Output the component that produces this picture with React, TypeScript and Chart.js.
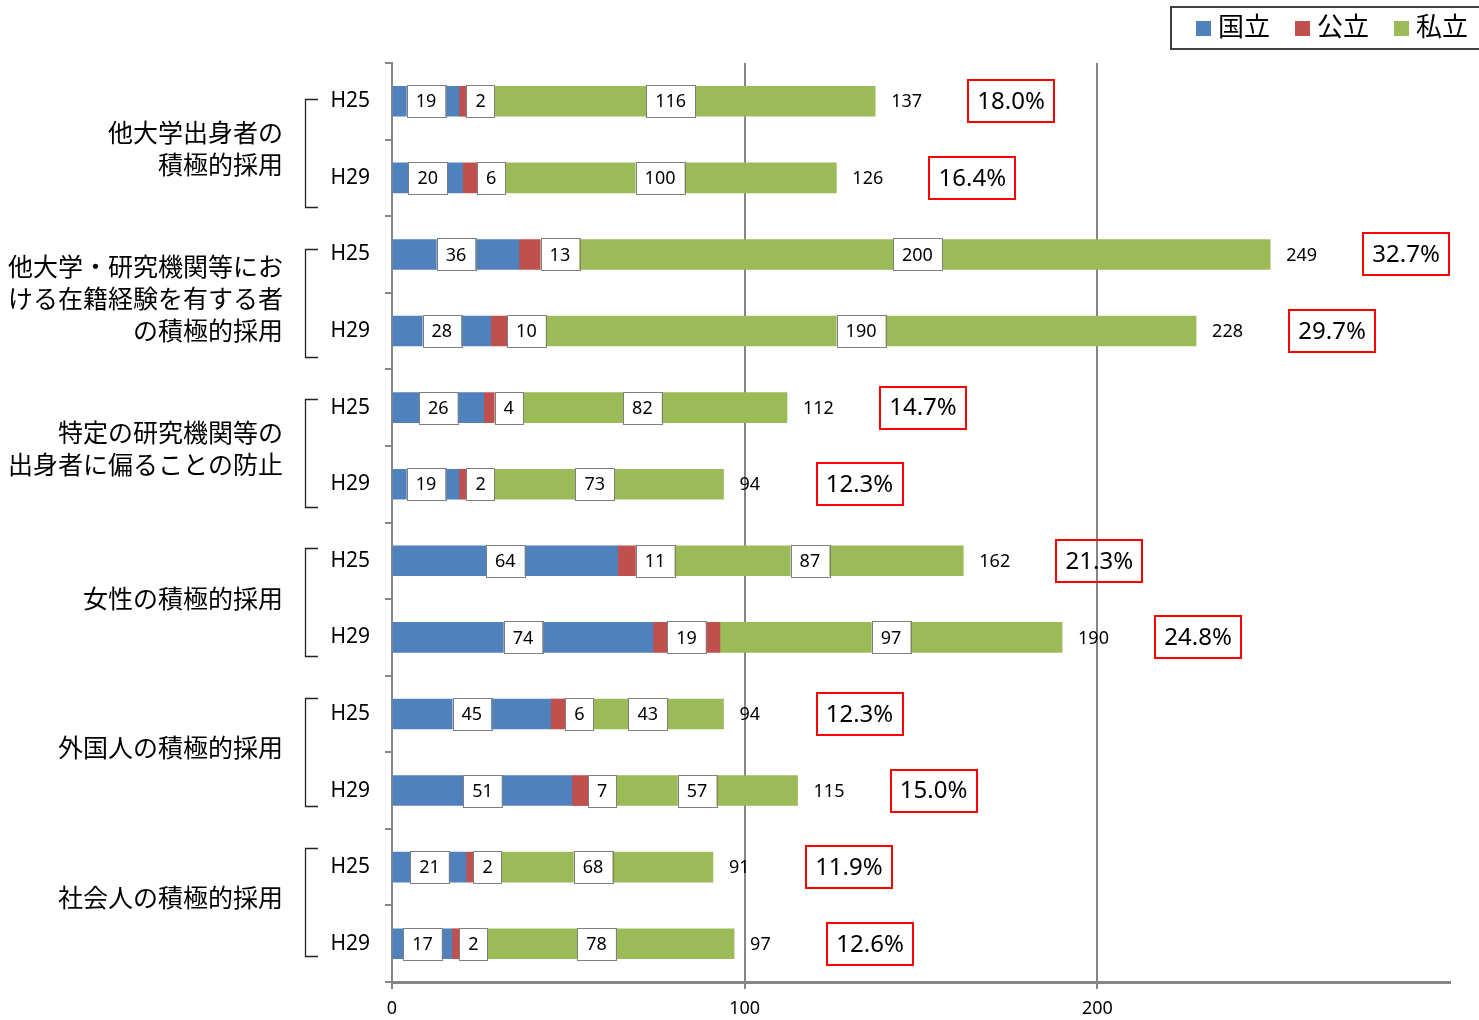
import React, { useEffect, useRef } from "react";
import { Chart, registerables } from "chart.js";

Chart.register(...registerables);

// ---- data ----
const categories = ["H25", "H29", "H25", "H29", "H25", "H29", "H25", "H29", "H25", "H29", "H25", "H29"];
const groupLabels: string[][] = [
  ["他大学出身者の", "積極的採用"],
  ["他大学・研究機関等にお", "ける在籍経験を有する者", "の積極的採用"],
  ["特定の研究機関等の", "出身者に偏ることの防止"],
  ["女性の積極的採用"],
  ["外国人の積極的採用"],
  ["社会人の積極的採用"],
];
const seriesNames = ["国立", "公立", "私立"];
const kokuritsu = [19, 20, 36, 28, 26, 19, 64, 74, 45, 51, 21, 17];
const kouritsu = [2, 6, 13, 10, 4, 2, 11, 19, 6, 7, 2, 2];
const shiritsu = [116, 100, 200, 190, 82, 73, 87, 97, 43, 57, 68, 78];
const totals = [137, 126, 249, 228, 112, 94, 162, 190, 94, 115, 91, 97];
const shares = ["18.0%", "16.4%", "32.7%", "29.7%", "14.7%", "12.3%", "21.3%", "24.8%", "12.3%", "15.0%", "11.9%", "12.6%"];
const xTickLabels = [0, 100, 200];
const xMax = 300;

// ---- style ----
const COLORS = ["#4F81BD", "#C0504D", "#9BBB59"];
const FONT = "'Noto Sans', 'Noto Sans CJK JP', sans-serif";
const AXIS = "#868686";

const overlay = {
  id: "overlay",
  beforeDatasetsDraw(chart: any) {
    const { ctx, chartArea, scales } = chart;
    ctx.save();
    ctx.strokeStyle = AXIS;
    ctx.lineWidth = 2;
    xTickLabels.forEach((v) => {
      if (v === 0) return;
      const px = Math.round(scales.x.getPixelForValue(v));
      ctx.beginPath();
      ctx.moveTo(px, chartArea.top);
      ctx.lineTo(px, chartArea.bottom);
      ctx.stroke();
    });
    ctx.restore();
  },
  afterDatasetsDraw(chart: any) {
    const { ctx } = chart;
    ctx.save();
    // value labels in boxes
    ctx.font = `18px ${FONT}`;
    ctx.textAlign = "center";
    ctx.textBaseline = "middle";
    chart.data.datasets.forEach((ds: any, di: number) => {
      const meta = chart.getDatasetMeta(di);
      meta.data.forEach((el: any, i: number) => {
        const { x, base, y } = el.getProps(["x", "base", "y"], true);
        let cx = (x + base) / 2;
        if (di === 1 && Math.abs(x - base) < 50) cx += 18;
        const txt = String(ds.data[i]);
        const w = ctx.measureText(txt).width + 18;
        const h = 32;
        ctx.fillStyle = "#ffffff";
        ctx.fillRect(cx - w / 2, y - h / 2, w, h);
        ctx.strokeStyle = "#7f7f7f";
        ctx.lineWidth = 1;
        ctx.strokeRect(Math.round(cx - w / 2) + 0.5, Math.round(y - h / 2) + 0.5, Math.round(w), h);
        ctx.fillStyle = "#000";
        ctx.fillText(txt, cx, y + 1);
      });
    });
    // totals and shares
    const last = chart.getDatasetMeta(chart.data.datasets.length - 1);
    last.data.forEach((el: any, i: number) => {
      const { x, y } = el.getProps(["x", "y"], true);
      ctx.font = `18px ${FONT}`;
      ctx.textAlign = "left";
      ctx.fillStyle = "#000";
      ctx.fillText(String(totals[i]), x + 16, y + 1);
      const bx = x + 93;
      const bw = 86;
      const bh = 42;
      ctx.strokeStyle = "#ff0000";
      ctx.lineWidth = 2;
      ctx.strokeRect(Math.round(bx), Math.round(y - bh / 2), bw, bh);
      ctx.font = `24px ${FONT}`;
      ctx.textAlign = "center";
      ctx.fillText(shares[i], bx + bw / 2, y + 1);
    });
    ctx.restore();
  },
  afterDraw(chart: any) {
    const { ctx, scales } = chart;
    const ys = scales.y;
    ctx.save();
    // group brackets and labels
    groupLabels.forEach((lines, g) => {
      const y1 = ys.getPixelForValue(2 * g);
      const y2 = ys.getPixelForValue(2 * g + 1);
      const mid = (y1 + y2) / 2 + 13.5 - 3.4 * g;
      const top = Math.round(mid - 54) + 0.5;
      const bot = Math.round(mid + 54) + 0.5;
      ctx.strokeStyle = "#222";
      ctx.lineWidth = 1.3;
      ctx.beginPath();
      ctx.moveTo(318, top);
      ctx.lineTo(305.5, top);
      ctx.lineTo(305.5, bot);
      ctx.lineTo(318, bot);
      ctx.stroke();
      ctx.font = `25px ${FONT}`;
      ctx.fillStyle = "#000";
      ctx.textAlign = "right";
      ctx.textBaseline = "middle";
      const lh = 32;
      lines.forEach((ln, k) => {
        const ly = mid - 2 + (k - (lines.length - 1) / 2) * lh;
        ctx.fillText(ln, 283, ly);
      });
    });
    // legend
    ctx.strokeStyle = "#404040";
    ctx.lineWidth = 2;
    ctx.strokeRect(1171, 7, 330, 42);
    ctx.font = `26px ${FONT}`;
    ctx.textAlign = "left";
    ctx.textBaseline = "middle";
    let lx = 1196;
    chart.data.datasets.forEach((ds: any) => {
      ctx.fillStyle = ds.backgroundColor;
      ctx.fillRect(lx, 21, 15, 15);
      ctx.fillStyle = "#000";
      ctx.fillText(ds.label, lx + 22, 29);
      lx += 22 + ctx.measureText(ds.label).width + 25;
    });
    ctx.restore();
  },
};

export default function App() {
  const ref = useRef<HTMLCanvasElement | null>(null);
  useEffect(() => {
    if (!ref.current) return;
    const chart = new Chart(ref.current, {
      type: "bar",
      data: {
        labels: categories,
        datasets: [kokuritsu, kouritsu, shiritsu].map((d, i) => ({
          label: seriesNames[i],
          data: d,
          backgroundColor: COLORS[i],
          borderWidth: 0,
          barThickness: 30,
        })),
      },
      options: {
        indexAxis: "y",
        responsive: false,
        animation: false,
        layout: { padding: { left: 0, top: 63, right: 29, bottom: 0 } },
        plugins: { legend: { display: false }, tooltip: { enabled: false } },
        scales: {
          x: {
            stacked: true,
            min: 0,
            max: xMax,
            ticks: {
              stepSize: 100,
              color: "#000",
              padding: 9,
              maxRotation: 0,
              font: { family: FONT, size: 18 },
              callback: (v: any) => (xTickLabels.includes(Number(v)) ? String(v) : ""),
            },
            grid: {
              drawOnChartArea: false,
              drawTicks: true,
              tickLength: 7,
              lineWidth: 2,
              color: (c: any) => (c.tick && xTickLabels.includes(c.tick.value) ? AXIS : "rgba(0,0,0,0)"),
            },
            border: { color: AXIS, width: 3 },
            afterFit: (s: any) => {
              s.height = 38;
            },
          },
          y: {
            stacked: true,
            ticks: { color: "#000", padding: 15, font: { family: FONT, size: 21 } },
            grid: { drawOnChartArea: false, offset: true, tickLength: 7, lineWidth: 2, color: AXIS },
            border: { color: AXIS, width: 2 },
            afterFit: (s: any) => {
              s.width = 392;
            },
          },
        },
      },
      plugins: [overlay],
    } as any);
    return () => chart.destroy();
  }, []);
  return (
    <div style={{ position: "absolute", left: 0, top: 0, width: 1479, height: 1020, background: "#fff" }}>
      <canvas ref={ref} width={1479} height={1020} />
    </div>
  );
}
